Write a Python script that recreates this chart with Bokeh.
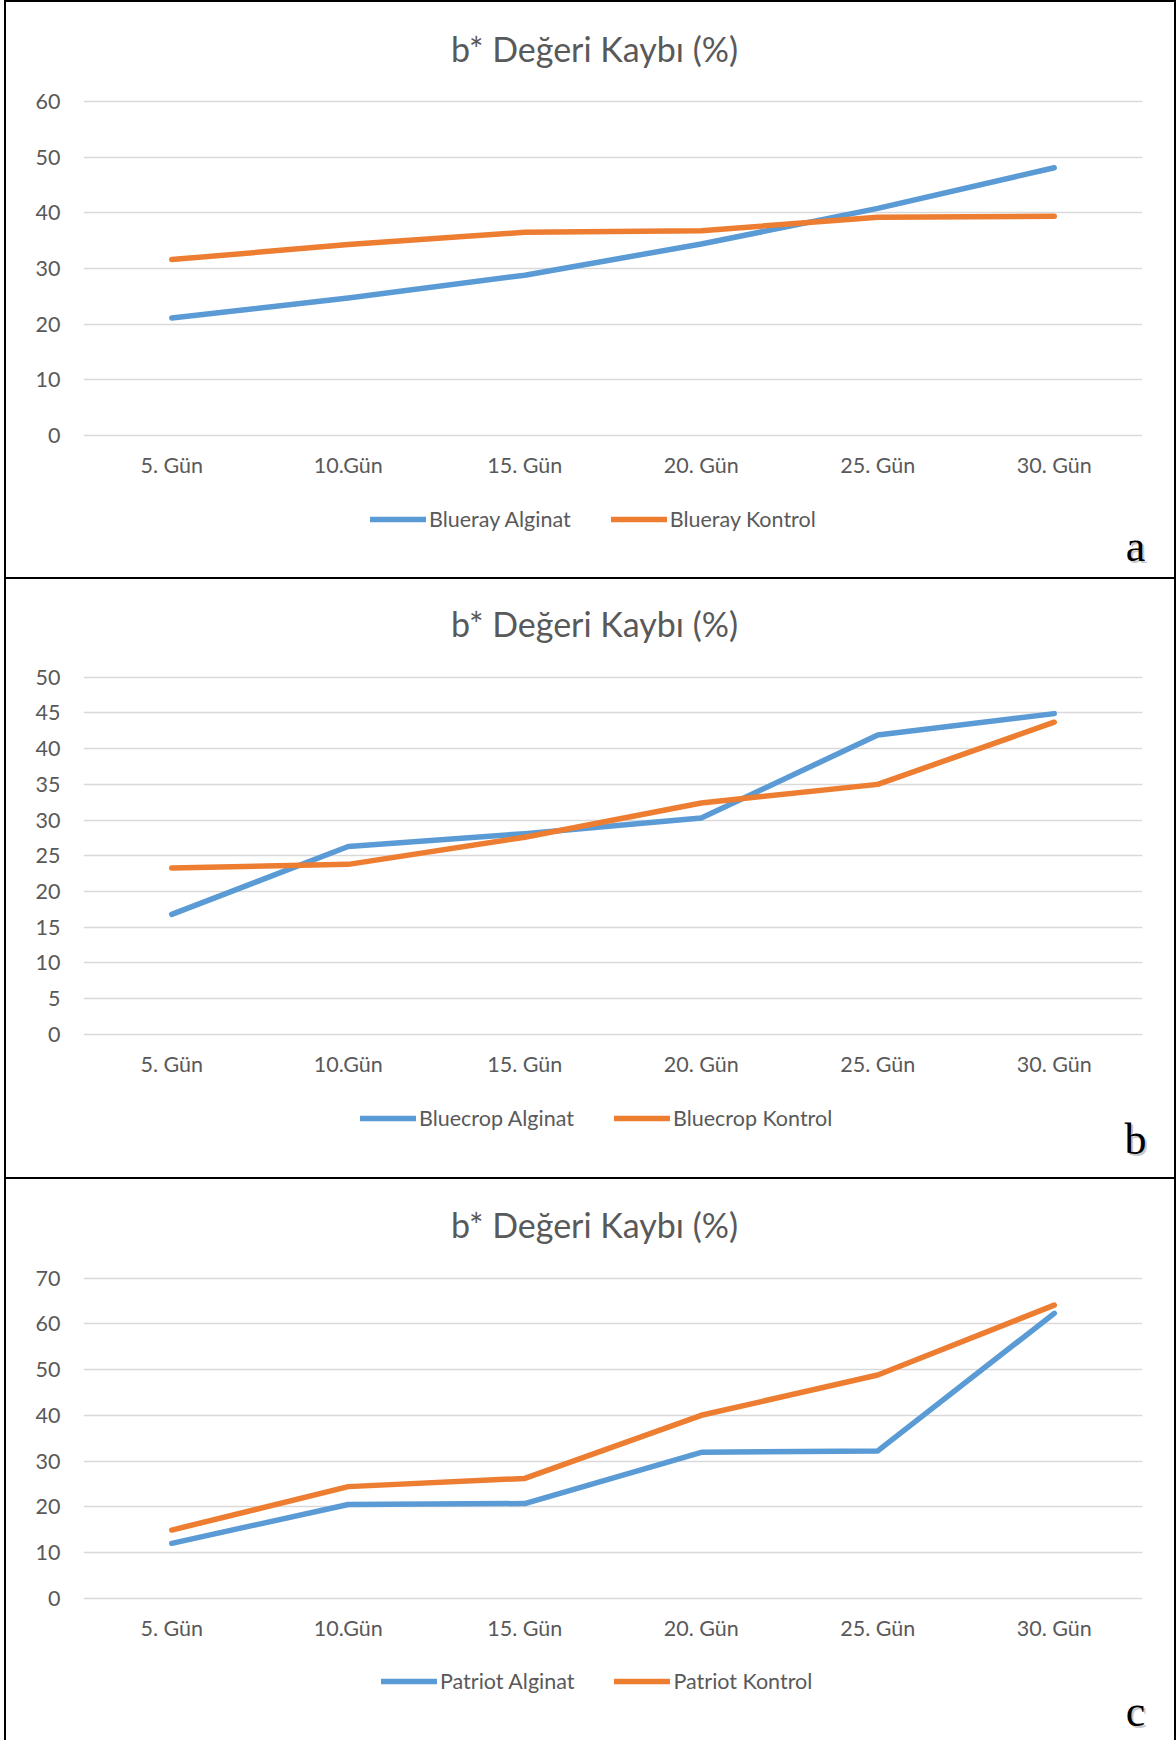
from bokeh.plotting import figure
from bokeh.models import Range1d, FactorRange, FixedTicker, Label, Legend, LegendItem
from bokeh.layouts import column
from bokeh.embed import file_html
from bokeh.resources import INLINE

# ---------------- data ----------------
days = ["5. Gün", "10.Gün", "15. Gün", "20. Gün", "25. Gün", "30. Gün"]
chart_title = "b* Değeri Kaybı (%)"

blueray_alginat = [21.1, 24.7, 28.8, 34.4, 40.8, 48.1]
blueray_kontrol = [31.6, 34.3, 36.5, 36.8, 39.2, 39.4]
bluecrop_alginat = [16.8, 26.3, 28.1, 30.3, 41.9, 44.9]
bluecrop_kontrol = [23.3, 23.8, 27.6, 32.4, 35.0, 43.7]
patriot_alginat = [12.0, 20.5, 20.7, 31.9, 32.2, 62.3]
patriot_kontrol = [14.9, 24.4, 26.2, 40.0, 48.8, 64.1]

series_names = [("Blueray Alginat", "Blueray Kontrol"),
                ("Bluecrop Alginat", "Bluecrop Kontrol"),
                ("Patriot Alginat", "Patriot Kontrol")]
series_values = [(blueray_alginat, blueray_kontrol),
                 (bluecrop_alginat, bluecrop_kontrol),
                 (patriot_alginat, patriot_kontrol)]
axis_max = [60, 50, 70]
axis_step = [10, 5, 10]
panel_letters = ["a", "b", "c"]

# ---------------- layout (page pixel positions) ----------------
FONT = "Lato"
TXT = "#595959"
BLUE = "#5B9BD5"
ORANGE = "#ED7D31"
FIG_W = 1176
FRAME_L, FRAME_R = 83, 1142
PAD = 2
AX_H = 46
LW = 5.5
FS = "21.5px"

layout = [
    dict(top=0, h=577, gtop=101, g0=435, title_y=48, xlab_y=466, leg_y=520, leg_x=370, let_x=1135, let_y=546),
    dict(top=577, h=600, gtop=676.7, g0=1033.9, title_y=623, xlab_y=1065, leg_y=1119, leg_x=360, let_x=1135, let_y=1139),
    dict(top=1177, h=563, gtop=1277.6, g0=1597.7, title_y=1224, xlab_y=1629, leg_y=1682, leg_x=381, let_x=1135, let_y=1711),
]

SIDES = "inset 4px 0 0 0 #fff, inset 6px 0 0 0 #000, inset -2px 0 0 0 #000"
TOPLINE = "inset 0 2px 0 0 #000"

blocks = []
for i, L in enumerate(layout):
    ymax = axis_max[i]
    upp = ymax / (L["g0"] - L["gtop"])
    frame_h = int(round(L["g0"] + PAD - L["top"]))
    fb = L["top"] + frame_h              # frame bottom (page)
    y_lo = -(fb - L["g0"]) * upp
    y_hi = y_lo + frame_h * upp
    f1_h = frame_h + AX_H
    f2_h = L["h"] - f1_h
    a_vals, k_vals = series_values[i]

    p = figure(width=FIG_W, height=f1_h, x_range=FactorRange(*days),
               y_range=Range1d(y_lo, y_hi),
               output_backend="svg", toolbar_location=None,
               min_border_left=FRAME_L, min_border_right=FIG_W - FRAME_R,
               min_border_top=0, min_border_bottom=AX_H,
               border_fill_color=None, background_fill_color=None,
               outline_line_color=None, frame_align=False,
               styles={"box-shadow": SIDES + ", " + TOPLINE, "background-color": "white"})
    p.title.visible = False
    p.xgrid.grid_line_color = None
    p.ygrid.grid_line_color = "#D9D9D9"
    p.ygrid.grid_line_width = 1.6
    p.yaxis.ticker = FixedTicker(ticks=list(range(0, ymax + 1, axis_step[i])))
    for ax in (p.xaxis[0], p.yaxis[0]):
        ax.axis_line_color = None
        ax.major_tick_line_color = None
        ax.minor_tick_line_color = None
        ax.major_tick_out = 0
        ax.major_tick_in = 0
        ax.minor_tick_out = 0
        ax.major_label_text_font = FONT
        ax.major_label_text_font_size = FS
        ax.major_label_text_color = TXT
    p.yaxis.major_label_standoff = 23
    p.xaxis.major_label_standoff = int(round(L["xlab_y"] - fb - 15))

    p.line(days, a_vals, line_color=BLUE, line_width=LW, line_join="round", line_cap="round")
    p.line(days, k_vals, line_color=ORANGE, line_width=LW, line_join="round", line_cap="round")

    p.add_layout(Label(x=594 - FRAME_L, y=fb - L["title_y"], x_units="screen", y_units="screen",
                       text=chart_title, text_font=FONT, text_font_size="34px",
                       text_color=TXT, text_align="center", text_baseline="middle"))

    # lower strip: legend + panel letter (series re-used only as legend proxies, out of view)
    q = figure(width=FIG_W, height=f2_h, x_range=FactorRange(*days), y_range=Range1d(-2, -1),
               x_axis_location=None, y_axis_location=None,
               output_backend="svg", toolbar_location=None,
               min_border=0, min_border_left=0, min_border_right=0,
               min_border_top=0, min_border_bottom=0,
               border_fill_color=None, background_fill_color=None,
               outline_line_color=None, frame_align=False,
               styles={"box-shadow": SIDES, "background-color": "white"})
    q.grid.visible = False
    q.title.visible = False
    la = q.line(days, a_vals, line_color=BLUE, line_width=LW, line_cap="round")
    lk = q.line(days, k_vals, line_color=ORANGE, line_width=LW, line_cap="round")
    q_bottom = L["top"] + L["h"]
    h = 24
    legend = Legend(items=[LegendItem(label=series_names[i][0], renderers=[la]),
                           LegendItem(label=series_names[i][1], renderers=[lk])],
                    orientation="horizontal",
                    location=(L["leg_x"], q_bottom - L["leg_y"] - h / 2),
                    glyph_width=56, glyph_height=h, label_height=h,
                    label_standoff=3, spacing=40, padding=0, margin=0,
                    border_line_color=None, background_fill_alpha=0,
                    label_text_font=FONT, label_text_font_size=FS,
                    label_text_color=TXT)
    q.add_layout(legend)
    q.add_layout(Label(x=L["let_x"] + 2, y=q_bottom - L["let_y"] - 2, x_units="screen", y_units="screen",
                       text=panel_letters[i], text_font="Liberation Serif", text_font_size="44px",
                       text_color="#999999", text_alpha=0.55,
                       text_align="center", text_baseline="middle"))
    q.add_layout(Label(x=L["let_x"], y=q_bottom - L["let_y"], x_units="screen", y_units="screen",
                       text=panel_letters[i], text_font="Liberation Serif", text_font_size="44px",
                       text_color="#000000",
                       text_align="center", text_baseline="middle"))
    blocks += [p, q]

page = column(*blocks, spacing=0)
open("out.html", "w").write(file_html(page, INLINE))
